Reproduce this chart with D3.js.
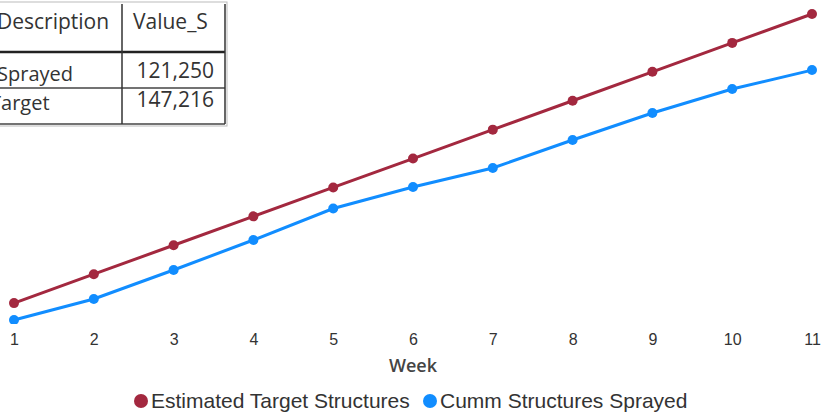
<!DOCTYPE html>
<html>
<head>
<meta charset="utf-8">
<script src="https://cdn.jsdelivr.net/npm/d3@7"></script>
<style>
  body { margin: 0; background: #fff; }
  svg { display: block; }
</style>
</head>
<body>
<div id="App"></div>
<script>
// data
const weeks = [1, 2, 3, 4, 5, 6, 7, 8, 9, 10, 11];
const targetValues = [13383, 26767, 40150, 53533, 66916, 80300, 93683, 107066, 120450, 133833, 147216];
const sprayedValues = [5550, 15280, 28700, 42590, 57170, 67120, 75920, 88880, 101380, 112490, 121250];
const seriesNames = ['Estimated Target Structures', 'Cumm Structures Sprayed'];
const tableHeader = ['Description', 'Value_S'];
const tableRows = [['Sprayed', '121,250'], ['Target', '147,216']];

const width = 821;
const height = 415;
const colors = ['#a3283f', '#118dff'];

const svg = d3.select('div#App')
  .append('svg')
  .attr('width', width)
  .attr('height', height);

const x = d3.scalePoint().domain(weeks).range([14, 812]);
const y = d3.scaleLinear().domain([0, 147216]).range([332, 14]);

// plot area clip (bottom point gets cut in the original)
svg.append('defs').append('clipPath').attr('id', 'plot')
  .append('rect').attr('x', 0).attr('y', 0).attr('width', width).attr('height', 324);

const plot = svg.append('g').attr('clip-path', 'url(#plot)');

const series = [targetValues, sprayedValues];
const line = d3.line().x((d, i) => x(weeks[i])).y(d => y(d));

series.forEach((vals, k) => {
  plot.append('path')
    .datum(vals)
    .attr('fill', 'none')
    .attr('stroke', colors[k])
    .attr('stroke-width', 3)
    .attr('d', line);
  plot.selectAll('circle.s' + k)
    .data(vals)
    .enter()
    .append('circle')
    .attr('class', 's' + k)
    .attr('cx', (d, i) => x(weeks[i]))
    .attr('cy', d => y(d))
    .attr('r', 5)
    .attr('fill', colors[k]);
});

// x axis, no line / ticks
const xAxis = svg.append('g')
  .attr('transform', 'translate(0,332)')
  .call(d3.axisBottom(x).tickSize(0).tickPadding(2));
xAxis.select('.domain').remove();
xAxis.selectAll('text')
  .attr('font-family', 'Liberation Sans, Arial, sans-serif')
  .attr('font-size', 16)
  .attr('fill', '#333');

svg.append('text')
  .attr('x', 413)
  .attr('y', 372)
  .attr('text-anchor', 'middle')
  .attr('font-family', 'Open Sans, sans-serif')
  .attr('font-weight', 600)
  .attr('font-size', 18)
  .attr('fill', '#444')
  .text('Week');

// legend
const legendX = [141, 430];
seriesNames.forEach((name, k) => {
  svg.append('circle')
    .attr('cx', legendX[k])
    .attr('cy', 401)
    .attr('r', 7)
    .attr('fill', colors[k]);
  svg.append('text')
    .attr('x', legendX[k] + 10)
    .attr('y', 408)
    .attr('font-family', 'Liberation Sans, Arial, sans-serif')
    .attr('font-size', 21)
    .attr('fill', '#333')
    .text(name);
});

// table in the top left corner, cut off on the left
const table = svg.append('g');
table.append('rect')
  .attr('x', -10).attr('y', 2).attr('width', 237).attr('height', 124)
  .attr('fill', '#fff').attr('stroke', '#bbb').attr('stroke-width', 1);

const rowLines = [52, 88, 124];
table.selectAll('line.row')
  .data(rowLines)
  .enter()
  .append('line')
  .attr('x1', -10).attr('x2', 225)
  .attr('y1', d => d).attr('y2', d => d)
  .attr('stroke', (d, i) => i === 0 ? '#222' : '#444')
  .attr('stroke-width', (d, i) => i === 0 ? 2.5 : 1.5);
[122, 225].forEach(cx => {
  table.append('line')
    .attr('x1', cx).attr('x2', cx)
    .attr('y1', 4).attr('y2', 124)
    .attr('stroke', '#333').attr('stroke-width', 1.5);
});

const tFont = 'Open Sans, sans-serif';
table.append('text')
  .attr('x', -3).attr('y', 29)
  .attr('font-family', tFont).attr('font-size', 21).attr('fill', '#333')
  .text(tableHeader[0]);
table.append('text')
  .attr('x', 133).attr('y', 29)
  .attr('font-family', tFont).attr('font-size', 21).attr('fill', '#333')
  .text(tableHeader[1]);

const rowBase = [79, 108];
tableRows.forEach((r, i) => {
  table.append('text')
    .attr('x', i === 0 ? -3 : -10).attr('y', rowBase[i] + 2)
    .attr('font-family', tFont).attr('font-size', 20).attr('fill', '#333')
    .text(r[0]);
  table.append('text')
    .attr('x', 214).attr('y', rowBase[i] - 1)
    .attr('text-anchor', 'end')
    .attr('font-family', tFont).attr('font-size', 21).attr('fill', '#333')
    .text(r[1]);
});
</script>
</body>
</html>
